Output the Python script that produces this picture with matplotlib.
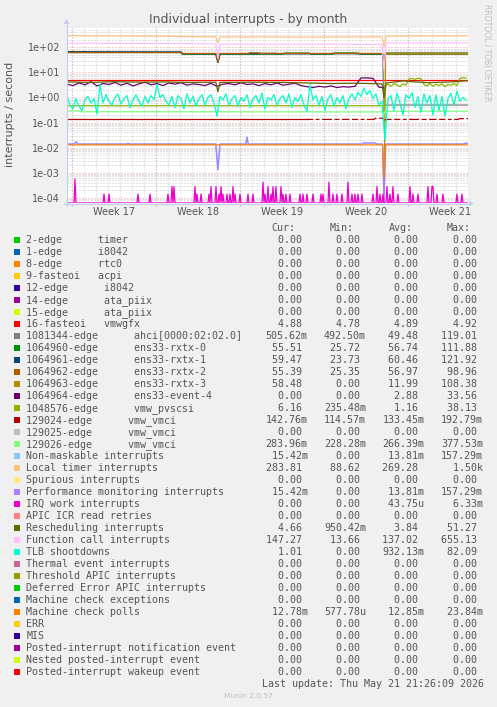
import numpy as np
import matplotlib
matplotlib.use("Agg")
import matplotlib.pyplot as plt
from matplotlib.patches import Rectangle, Polygon

# ---------------- data (time in days from left edge of graph) ----------------
week_labels = ["Week 17", "Week 18", "Week 19", "Week 20", "Week 21"]
span_days = 33.42
week_start = 0.42

vmwgfx_t = [0, 33.42]
vmwgfx_v = [4.89, 4.89]

ahci_t = [0, 9.5, 9.6, 12.4, 12.58, 12.75, 16.0, 16.1, 17.5, 17.6, 22.0, 22.1, 24.0, 24.1, 26.3, 26.42, 26.55, 33.42]
ahci_v = [63, 63, 56, 56, 29, 56, 56, 58.5, 58.5, 56, 56, 58.5, 58.5, 56, 56, 0.49, 0.5, 0.5]

rx0_t = [0, 9.5, 9.6, 12.4, 12.58, 12.75, 18.0, 18.1, 20.2, 20.3, 22.2, 22.3, 24.3, 24.4, 26.3, 26.42, 26.55, 33.42]
rx0_v = [63, 63, 54, 54, 26, 54, 54, 59.5, 59.5, 54, 54, 59.5, 59.5, 54, 54, 25.7, 54, 54.5]

rx1_t = [0, 4, 7, 9.5, 9.6, 12.4, 12.58, 12.75, 26.3, 26.42, 26.55, 33.42]
rx1_v = [68, 67, 66.5, 66, 56, 56, 25, 56, 56, 23.7, 59.5, 59.5]

rx2_t = [0, 9.5, 9.6, 12.4, 12.58, 12.75, 15.1, 15.2, 16.0, 16.1, 26.3, 26.42, 26.55, 33.42]
rx2_v = [63, 63, 57.5, 57.5, 26, 57.5, 57.5, 61, 61, 57.5, 57.5, 25.4, 55.4, 55.4]

rx3_t = [26.42, 26.55, 33.42]
rx3_v = [0, 58.5, 58.5]

ev4_v = [3.4, 3.0, 3.8, 3.2, 4.3, 2.9, 3.6, 3.3, 4.0, 3.1, 3.7, 2.9, 3.5, 4.1,
         3.2, 3.6, 3.0, 3.8, 3.4, 3.9, 3.1, 3.5, 3.3, 3.0, 3.7, 2.8, 3.4, 3.6,
         3.2, 3.9, 3.3, 3.5, 3.0, 3.6, 3.2, 3.8, 3.1, 3.4, 3.7, 3.0, 2.7, 2.5,
         2.8, 2.6, 2.9, 2.5, 2.7, 2.6, 2.8, 6.0, 6.1, 5.8, 2.6, 2.4]
ev4_step = 0.5

pv_t = [0, 26.3, 26.42]
pv_v = [0.47, 0.47, 0.24]
pv_tail_v = [3.0, 3.4, 2.8, 3.6, 3.2, 2.7, 3.5, 3.1, 5.5, 5.8, 5.3, 5.9, 5.6, 3.3,
             2.9, 3.6, 2.8, 3.4, 3.0, 3.5, 2.7, 3.3, 3.1, 3.6, 3.0, 5.8, 6.2, 5.9]
pv_tail_start = 26.5
pv_tail_step = 0.25

vm24_t = [0, 20.0]
vm24_v = [0.135, 0.135]
vm24_tail_t = [20.0, 25.6, 25.7, 26.3, 26.42, 26.55, 32.6, 32.7, 33.42]
vm24_tail_v = [0.133, 0.133, 0.148, 0.148, 0.1146, 0.133, 0.133, 0.143, 0.143]

vm26_t = [0, 1.0, 1.1, 26.3, 26.42, 26.55, 33.42]
vm26_v = [0.29, 0.29, 0.27, 0.265, 0.228, 0.28, 0.285]

pmi_t = [0, 0.6, 0.75, 0.9, 5.0, 5.1, 5.2, 12.4, 12.58, 12.75, 14.9, 15.0, 15.1,
         24.6, 24.7, 25.7, 25.8, 26.3, 26.42, 26.55, 33.0, 33.2, 33.42]
pmi_v = [0.0138, 0.0138, 0.017, 0.0138, 0.0138, 0.015, 0.0138, 0.0138, 0.0013, 0.0138,
         0.0138, 0.026, 0.0138, 0.0138, 0.0152, 0.0152, 0.0138, 0.0138, 0, 0.0138,
         0.0138, 0.0150, 0.0145]
nmi_t = pmi_t
nmi_v = pmi_v

loc_t = [0, 3, 6, 9.5, 12.4, 12.58, 12.75, 16, 20, 24, 26.25, 26.42, 26.6, 30, 33.42]
loc_v = [295, 290, 285, 275, 265, 150, 262, 262, 258, 262, 265, 110, 285, 288, 290]

fc_t = [0, 12.4, 12.58, 12.75, 26.25, 26.42, 26.6, 33.42]
fc_v = [148, 140, 35, 135, 132, 14, 150, 152]

rs_t = [0, 2, 4, 6, 8, 10, 12.4, 12.58, 12.75, 15, 18, 20, 22, 24, 26.25, 26.42, 26.6, 28, 30, 32, 33.42]
rs_v = [4.2, 4.0, 4.3, 4.1, 4.2, 4.0, 4.1, 1.7, 4.0, 4.1, 4.0, 3.8, 3.6, 3.7, 3.5, 0.95, 3.8, 4.6, 3.9, 4.2, 4.7]

tlb_v = [1.2, 0.5, 0.35, 0.9, 0.45, 0.3, 0.8, 1.1, 0.6, 0.9, 0.22, 3.4,
         0.6, 1.3, 0.7, 0.5, 1.0, 1.4, 0.55, 0.9, 1.2, 0.4, 0.8, 1.3,
         0.7, 0.45, 1.1, 0.6, 1.2, 0.8, 3.3, 1.0, 1.3, 0.7, 0.5, 1.1,
         0.4, 1.2, 0.9, 0.35, 1.4, 0.6, 1.1, 0.45, 0.9, 1.3, 0.5, 1.0,
         1.3, 0.6, 0.18, 1.1, 0.8, 1.4, 0.5, 0.9, 1.2, 0.45, 1.0, 0.7,
         1.3, 0.4, 0.9, 1.2, 0.6, 1.5, 0.35, 1.0, 0.8, 1.3, 0.5, 0.9,
         1.2, 0.6, 1.4, 0.4, 1.0, 0.7, 1.3, 0.5, 0.28, 3.3, 0.8, 1.2,
         0.5, 1.1, 0.3, 0.9, 1.3, 0.45, 1.0, 0.6, 1.2, 0.35, 0.9, 1.4,
         0.8, 1.6, 1.1, 2.4, 1.3, 1.9, 0.9, 1.4, 0.5, 0.7, 0.02, 0.9,
         1.2, 0.3, 1.5, 0.6, 0.2, 1.3, 0.9, 1.6, 0.4, 1.1, 0.25, 1.4,
         0.6, 1.2, 0.2, 1.3, 0.3, 1.1, 0.18, 0.9, 1.5, 0.5, 1.8, 0.7,
         1.0, 0.8]
tlb_step = 0.25

mcp_t = [0, 26.3, 26.42, 26.55, 33.42]
mcp_v = [0.0128, 0.0128, 0.00058, 0.0128, 0.0128]

# IRQ work: spikes (day, interrupts per 2h sample); zero elsewhere
irq_spike_t = [0.69, 3.08, 3.47, 5.94, 6.92, 8.44, 8.78, 8.92, 10.67, 10.81, 11.14, 11.86,
               12.0, 12.42, 12.67, 12.81, 12.97, 13.31, 13.58, 13.86, 14.0, 14.42, 15.11,
               15.53, 16.31, 16.5, 16.78, 16.97, 17.14, 17.42, 17.83, 18.03, 18.25, 18.58,
               19.42, 19.64, 19.97, 20.47, 21.17, 21.36, 21.86, 22.19, 22.47, 22.89, 23.44,
               23.72, 24.0, 24.28, 24.56, 25.53, 25.86, 26.08, 26.36, 26.64, 26.92, 27.19,
               27.61, 28.58, 28.86, 29.28, 30.11, 30.39, 30.53, 30.81, 31.36, 32.47, 32.89]
irq_spike_n = [4, 1, 1, 1, 1, 1, 2, 2, 2, 1, 1, 1,
               2, 2, 1, 2, 1, 1, 1, 2, 1, 1, 1,
               1, 3, 1, 2, 1, 2, 2, 2, 1, 1, 1,
               1, 1, 1, 1, 1, 1, 3, 1, 1, 1, 3,
               1, 1, 1, 1, 1, 2, 1, 1, 2, 1, 2,
               1, 2, 1, 1, 2, 2, 2, 1, 1, 1, 1]
sample_seconds = 7200.0

# legend
leg_labels = ["2-edge      timer", "1-edge      i8042", "8-edge      rtc0", "9-fasteoi   acpi",
              "12-edge      i8042", "14-edge      ata_piix", "15-edge      ata_piix",
              "16-fasteoi   vmwgfx", "1081344-edge      ahci[0000:02:02.0]",
              "1064960-edge      ens33-rxtx-0", "1064961-edge      ens33-rxtx-1",
              "1064962-edge      ens33-rxtx-2", "1064963-edge      ens33-rxtx-3",
              "1064964-edge      ens33-event-4", "1048576-edge      vmw_pvscsi",
              "129024-edge      vmw_vmci", "129025-edge      vmw_vmci", "129026-edge      vmw_vmci",
              "Non-maskable interrupts", "Local timer interrupts", "Spurious interrupts",
              "Performance monitoring interrupts", "IRQ work interrupts", "APIC ICR read retries",
              "Rescheduling interrupts", "Function call interrupts", "TLB shootdowns",
              "Thermal event interrupts", "Threshold APIC interrupts", "Deferred Error APIC interrupts",
              "Machine check exceptions", "Machine check polls", "ERR", "MIS",
              "Posted-interrupt notification event", "Nested posted-interrupt event",
              "Posted-interrupt wakeup event"]
leg_colors = ["#00CC00", "#0066B3", "#FF8000", "#FFCC00", "#330099", "#990099", "#CCFF00",
              "#FF0000", "#808080", "#008F00", "#00487D", "#B35A00", "#B38F00", "#6B006B",
              "#8FB300", "#B30000", "#BEBEBE", "#80FF80", "#80C9FF", "#FFC080", "#FFE680",
              "#AA80FF", "#EE00CC", "#FF8080", "#666600", "#FFBFFF", "#00FFCC", "#CC6699",
              "#999900", "#00CC00", "#0066B3", "#FF8000", "#FFCC00", "#330099", "#990099",
              "#CCFF00", "#FF0000"]
cur_vals = ["0.00"] * 7 + ["4.88", "505.62m", "55.51", "59.47", "55.39", "58.48", "0.00", "6.16",
            "142.76m", "0.00", "283.96m", "15.42m", "283.81", "0.00", "15.42m", "0.00", "0.00",
            "4.66", "147.27", "1.01", "0.00", "0.00", "0.00", "0.00", "12.78m", "0.00", "0.00",
            "0.00", "0.00", "0.00"]
min_vals = ["0.00"] * 7 + ["4.78", "492.50m", "25.72", "23.73", "25.35", "0.00", "0.00", "235.48m",
            "114.57m", "0.00", "228.28m", "0.00", "88.62", "0.00", "0.00", "0.00", "0.00",
            "950.42m", "13.66", "0.00", "0.00", "0.00", "0.00", "0.00", "577.78u", "0.00", "0.00",
            "0.00", "0.00", "0.00"]
avg_vals = ["0.00"] * 7 + ["4.89", "49.48", "56.74", "60.46", "56.97", "11.99", "2.88", "1.16",
            "133.45m", "0.00", "266.39m", "13.81m", "269.28", "0.00", "13.81m", "43.75u", "0.00",
            "3.84", "137.02", "932.13m", "0.00", "0.00", "0.00", "0.00", "12.85m", "0.00", "0.00",
            "0.00", "0.00", "0.00"]
max_vals = ["0.00"] * 7 + ["4.92", "119.01", "111.88", "121.92", "98.96", "108.38", "33.56", "38.13",
            "192.79m", "0.00", "377.53m", "157.29m", "1.50k", "0.00", "157.29m", "6.33m", "0.00",
            "51.27", "655.13", "82.09", "0.00", "0.00", "0.00", "0.00", "23.84m", "0.00", "0.00",
            "0.00", "0.00", "0.00"]

title = "Individual interrupts - by month"
ylabel = "interrupts / second"
last_update = "Last update: Thu May 21 21:26:09 2026"
version = "Munin 2.0.57"
side_text = "RRDTOOL / TOBI OETIKER"

# ---------------- figure ----------------
W, H = 497, 707
fig = plt.figure(figsize=(W / 100, H / 100), dpi=100, facecolor="#F0F0F0")
L, R, T, B = 67, 468, 28, 203
ax = fig.add_axes([L / W, 1 - B / H, (R - L) / W, (B - T) / H])
ax.set_facecolor("white")
ymin, ymax = 6.1e-5, 597
ax.set_yscale("log")
ax.set_xlim(0, span_days)
ax.set_ylim(ymin, ymax)
for s in ax.spines.values():
    s.set_visible(False)

TXT = "#555555"
LW = 0.9
# grid
minor_kw = dict(color="#C8C8C8", lw=0.72, ls=(0, (1, 2)), zorder=0.5, snap=True)
major_kw = dict(color="#EBA9A9", lw=0.72, ls=(0, (1, 2)), zorder=0.6, snap=True)
for e in range(-5, 3):
    for m in range(2, 10):
        v = m * 10.0 ** e
        if ymin < v < ymax:
            ax.axhline(v, **minor_kw)
    v = 10.0 ** e
    if ymin < v < ymax:
        ax.axhline(v, **major_kw)
d = week_start - 7
while d < span_days:
    if d > 0:
        ax.axvline(d, **minor_kw)
    d += 1
wk = week_start
while wk < span_days:
    ax.axvline(wk, **major_kw)
    wk += 7

ax.set_yticks([10.0 ** e for e in range(-4, 3)])
ax.set_yticklabels(["1e-04", "1e-03", "1e-02", "1e-01", "1e+00", "1e+01", "1e+02"])
ax.minorticks_off()
centers = [week_start + 3.5 + 7 * i for i in range(len(week_labels))]
ax.set_xticks(centers)
ax.set_xticklabels(week_labels)
ax.tick_params(axis="both", length=0, labelsize=7, colors=TXT)
ax.tick_params(axis="y", pad=5)
ax.tick_params(axis="x", pad=3)


def draw(t, v, color, z, **kw):
    v = np.asarray(v, dtype=float)
    v = np.where(v <= 0, ymin, v)
    ax.plot(t, v, color=color, lw=LW, zorder=z, **kw)


col = dict(zip(leg_labels, leg_colors))
z = 2
draw(vmwgfx_t, vmwgfx_v, col["16-fasteoi   vmwgfx"], z); z += 0.1
draw(ahci_t, ahci_v, col[leg_labels[8]], z); z += 0.1
draw(rx0_t, rx0_v, col[leg_labels[9]], z); z += 0.1
draw(rx1_t, rx1_v, col[leg_labels[10]], z); z += 0.1
draw(rx2_t, rx2_v, col[leg_labels[11]], z); z += 0.1
draw(rx3_t, rx3_v, col[leg_labels[12]], z); z += 0.1
draw(np.arange(len(ev4_v)) * ev4_step, ev4_v, col[leg_labels[13]], z); z += 0.1
pv_all_t = list(pv_t) + list(pv_tail_start + np.arange(len(pv_tail_v)) * pv_tail_step)
draw(pv_all_t, list(pv_v) + pv_tail_v, col[leg_labels[14]], z); z += 0.1
draw(vm24_t, vm24_v, col[leg_labels[15]], z)
draw(vm24_tail_t, vm24_tail_v, col[leg_labels[15]], z,
     ls=(0, (5, 2, 3, 2, 8, 2, 4, 2, 6, 2)))
z += 0.1
draw(vm26_t, vm26_v, col[leg_labels[17]], z); z += 0.1
draw(nmi_t, nmi_v, col["Non-maskable interrupts"], z); z += 0.1
draw(loc_t, loc_v, col["Local timer interrupts"], z); z += 0.1
draw(pmi_t, pmi_v, col["Performance monitoring interrupts"], z); z += 0.1
n_samples = int(round(span_days * 24 / 2)) + 1
irq_t = np.arange(n_samples) * (2 / 24)
irq_v = np.zeros(n_samples)
for ts, n in zip(irq_spike_t, irq_spike_n):
    irq_v[int(round(ts * 12))] = n / sample_seconds
draw(irq_t, irq_v, col["IRQ work interrupts"], z); z += 0.1
draw(rs_t, rs_v, col["Rescheduling interrupts"], z); z += 0.1
draw(fc_t, fc_v, col["Function call interrupts"], z); z += 0.1
draw(np.arange(len(tlb_v)) * tlb_step, tlb_v, col["TLB shootdowns"], z); z += 0.1
draw(mcp_t, mcp_v, col["Machine check polls"], z); z += 0.1

# ---------------- overlay in pixel coordinates ----------------
ov = fig.add_axes([0, 0, 1, 1], zorder=10)
ov.set_xlim(0, W)
ov.set_ylim(H, 0)
ov.axis("off")
ov.patch.set_alpha(0)

AX = "#C4CCF2"
ov.plot([L - 0.5, L - 0.5], [B + 3, T - 5], color=AX, lw=0.8)
ov.plot([L - 3, R + 2], [B + 0.5, B + 0.5], color=AX, lw=0.8)
ov.add_patch(Polygon([[L - 3.5, T - 4], [L + 2.5, T - 4], [L - 0.5, T - 9]], closed=True, color=AX, lw=0))
ov.add_patch(Polygon([[R + 1, B - 2.5], [R + 1, B + 3.5], [R + 6, B + 0.5]], closed=True, color=AX, lw=0))
wk = week_start
while wk < span_days:
    xp = L + wk / span_days * (R - L)
    ov.plot([xp, xp], [B + 1, B + 3], color=AX, lw=0.8)
    wk += 7

ov.text(248, 19, title, ha="center", va="center", fontsize=9, color=TXT, family="DejaVu Sans")
ov.text(10.5, 114.5, ylabel, ha="center", va="center", rotation=90, fontsize=8, color=TXT,
        family="DejaVu Sans")
ov.text(487, 53, side_text, ha="center", va="center", rotation=270, fontsize=5.5,
        color="#C0C0C0", family="DejaVu Sans")

MONO = dict(family="DejaVu Sans Mono", fontsize=7.2, color=TXT, va="baseline")
row0, dy, base_off = 239.7, 12.0, 3.6
col_x = [265.5, 324.0, 382.5, 441.0]
for hx, h in zip(col_x, ["Cur:", "Min:", "Avg:", "Max:"]):
    ov.text(hx + 6, row0 - dy + base_off, h, ha="left", **MONO)


def fmt(s):
    if s[-1].isalpha():
        return s[:-1].rjust(6) + s[-1]
    return s.rjust(6) + " "


for i, (lab, c) in enumerate(zip(leg_labels, leg_colors)):
    yc = row0 + dy * i
    ov.add_patch(Rectangle((14, yc - 3), 6, 6, color=c, lw=0))
    ov.text(26.3, yc + base_off, lab, ha="left", **MONO)
    for cx, vals in zip(col_x, [cur_vals, min_vals, avg_vals, max_vals]):
        ov.text(cx, yc + base_off, fmt(vals[i]), ha="left", **MONO)

ov.text(261.5, 683.3 + base_off, last_update, ha="left", **MONO)
ov.text(248, 695.7, version, ha="center", va="center", fontsize=5.4, color="#C0C0C0",
        family="DejaVu Sans")

fig.savefig("out.png", dpi=100, facecolor=fig.get_facecolor())
